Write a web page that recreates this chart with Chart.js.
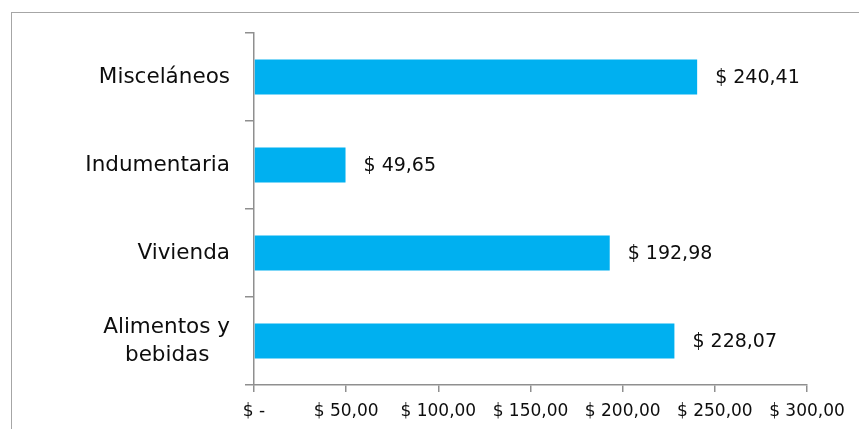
<!DOCTYPE html>
<html>
<head>
<meta charset="utf-8">
<script src="https://cdn.jsdelivr.net/npm/chart.js@4"></script>
<style>
  html, body { margin: 0; padding: 0; background: #fff; overflow: hidden; }
  #wrap { position: relative; width: 859px; height: 429px; }
  #frame {
    position: absolute; left: 11px; top: 12px; right: -5px; bottom: -5px;
    border-left: 1px solid #a6a6a6; border-top: 1px solid #a6a6a6;
    pointer-events: none;
  }
  canvas { position: absolute; left: 0; top: 0; }
</style>
</head>
<body>
<div id="wrap">
  <canvas id="chart-gastos" width="859" height="429"></canvas>
  <div id="frame"></div>
</div>
<script>
// categorías de gasto (de arriba hacia abajo)
const categorias = ['Misceláneos', 'Indumentaria', 'Vivienda', ['Alimentos y', 'bebidas\u00a0\u00a0\u00a0']];
// importes en $
const importes = [240.41, 49.65, 192.98, 228.07];
// eje X
const ejeMin = 0;
const ejeMax = 300;
const ejePaso = 50;

const FUENTE = '"DejaVu Sans", "Open Sans", sans-serif';
const GRIS_EJE = '#8f8f8f';

// formato contable: "$ 240,41", y "$ -" para el cero
function formatoPesos(v) {
    if (v === 0) return '$ -';
    return '$ ' + v.toFixed(2).replace('.', ',');
}

// etiquetas de valor a la derecha de cada barra
const etiquetasValor = {
    id: 'etiquetasValor',
    afterDatasetsDraw(chart) {
        const ctx = chart.ctx;
        const meta = chart.getDatasetMeta(0);
        ctx.save();
        ctx.font = '19px ' + FUENTE;
        ctx.fillStyle = '#0d0d0d';
        ctx.textAlign = 'left';
        ctx.textBaseline = 'middle';
        meta.data.forEach((bar, i) => {
            ctx.fillText(formatoPesos(importes[i]), bar.x + 18, bar.y + 1);
        });
        ctx.restore();
    }
};

new Chart(document.getElementById('chart-gastos'), {
    type: 'bar',
    data: {
        labels: categorias,
        datasets: [{
            data: importes,
            backgroundColor: '#00b0f0',
            borderWidth: 0,
            barPercentage: 0.4,
            categoryPercentage: 1
        }]
    },
    options: {
        indexAxis: 'y',
        responsive: false,
        animation: false,
        devicePixelRatio: 1,
        layout: { padding: { left: 0, top: 33, right: 52, bottom: 0 } },
        plugins: {
            legend: { display: false },
            tooltip: { enabled: false }
        },
        scales: {
            x: {
                min: ejeMin,
                max: ejeMax,
                afterFit: s => { s.height = 44; },
                grid: { drawOnChartArea: false, drawTicks: true, tickLength: 7, color: GRIS_EJE, lineWidth: 1.5 },
                border: { color: GRIS_EJE, width: 1.5 },
                ticks: {
                    stepSize: ejePaso,
                    padding: 9,
                    maxRotation: 0,
                    autoSkip: false,
                    color: '#0d0d0d',
                    font: { family: FUENTE, size: 17 },
                    callback: v => formatoPesos(v)
                }
            },
            y: {
                afterFit: s => { s.width = 254; s.paddingTop = 0; s.paddingBottom = 0; },
                grid: { drawOnChartArea: false, drawTicks: true, tickLength: 9, color: GRIS_EJE, lineWidth: 1.5, offset: true },
                border: { color: GRIS_EJE, width: 1.5 },
                ticks: {
                    padding: 15,
                    color: '#0d0d0d',
                    font: { family: FUENTE, size: 21.5, lineHeight: 1.3 }
                }
            }
        }
    },
    plugins: [etiquetasValor]
});
</script>
</body>
</html>
